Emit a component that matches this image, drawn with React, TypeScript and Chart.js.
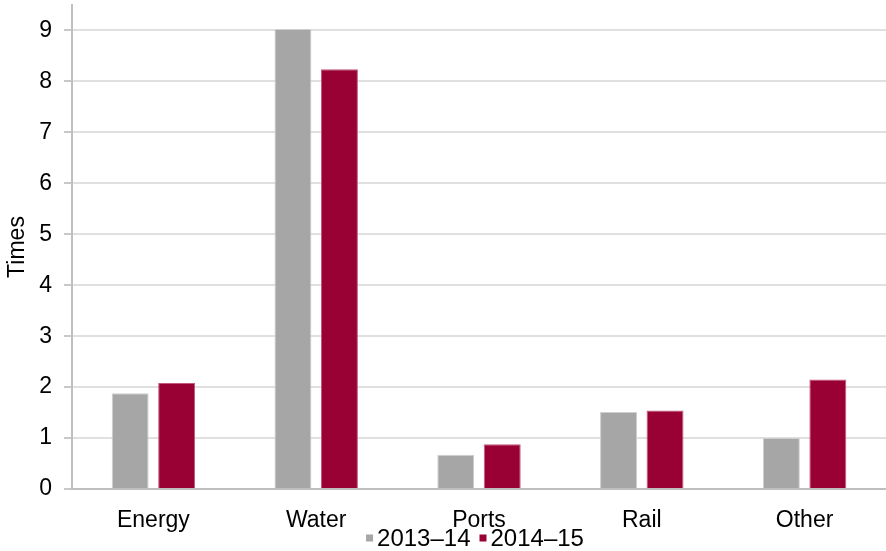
import React, { useEffect, useRef } from "react";
import { Chart, registerables } from "chart.js";

Chart.register(...registerables);

// Coverage ratio by sector, two financial years
const categories = ["Energy", "Water", "Ports", "Rail", "Other"];
const fy2013_14 = [1.88, 9.03, 0.67, 1.51, 1.0];
const fy2014_15 = [2.08, 8.24, 0.88, 1.54, 2.15];
const seriesLabels = ["2013\u201314", "2014\u201315"];
const yTickValues = [0, 1, 2, 3, 4, 5, 6, 7, 8, 9];

const FONT = '"Liberation Sans", Arial, sans-serif';
const GREY = "#a6a6a6";
const MAROON = "#990033";

// Compact legend centred under the axis labels
const bottomLegend = {
  id: "bottomLegend",
  afterDraw(chart: any) {
    const ctx = chart.ctx as CanvasRenderingContext2D;
    const box = 7;
    const gap = 4;
    const itemGap = 9;
    ctx.save();
    ctx.font = `24px ${FONT}`;
    ctx.textBaseline = "middle";
    const items = chart.data.datasets.map((ds: any) => ({
      text: ds.label as string,
      color: ds.backgroundColor as string,
      w: ctx.measureText(ds.label).width,
    }));
    const total =
      items.reduce((s: number, it: any) => s + box + gap + it.w, 0) +
      itemGap * (items.length - 1);
    let x = (chart.chartArea.left + chart.chartArea.right) / 2 - total / 2 - 4;
    const y = chart.height - 13;
    for (const it of items) {
      ctx.fillStyle = it.color;
      ctx.fillRect(x, y - box / 2, box, box);
      x += box + gap;
      ctx.fillStyle = "#000";
      ctx.fillText(it.text, x, y + 1);
      x += it.w + itemGap;
    }
    ctx.restore();
  },
};

export default function App() {
  const canvasRef = useRef<HTMLCanvasElement | null>(null);

  useEffect(() => {
    if (!canvasRef.current) return;
    const chart = new Chart(canvasRef.current, {
      type: "bar",
      data: {
        labels: categories,
        datasets: [
          {
            label: seriesLabels[0],
            data: fy2013_14,
            backgroundColor: GREY,
            borderColor: "#cfcfcf",
            borderWidth: 1,
          },
          {
            label: seriesLabels[1],
            data: fy2014_15,
            backgroundColor: MAROON,
            borderColor: "#c4577c",
            borderWidth: 1,
          },
        ],
      },
      options: {
        animation: false,
        responsive: false,
        maintainAspectRatio: false,
        layout: { padding: { top: 5, right: 0, bottom: 0, left: 0 } },
        datasets: {
          bar: { categoryPercentage: 0.571, barPercentage: 0.795 },
        },
        plugins: {
          legend: { display: false },
          tooltip: { enabled: false },
        },
        scales: {
          x: {
            grid: { display: false },
            border: { display: true, color: "#bfbfbf", width: 2 },
            ticks: {
              color: "#000",
              font: { family: FONT, size: 23 },
              padding: 10,
              maxRotation: 0,
            },
            afterFit(scale: any) {
              scale.height = 62;
              scale.paddingLeft = 0;
              scale.paddingRight = 0;
            },
          },
          y: {
            min: 0,
            max: 9.5,
            ticks: {
              stepSize: 1,
              color: "#000",
              font: { family: FONT, size: 23 },
              padding: 12,
            },
            afterBuildTicks(scale: any) {
              scale.ticks = yTickValues.map((v) => ({ value: v }));
            },
            grid: {
              color: "#e0e0e0",
              lineWidth: 2,
              tickLength: 8,
              tickColor: "#c8c8c8",
            },
            border: { display: true, color: "#bfbfbf", width: 2 },
            title: {
              display: true,
              text: "Times",
              color: "#000",
              font: { family: FONT, size: 23 },
              padding: { top: 4, bottom: 0 },
            },
            afterFit(scale: any) {
              scale.width = 72;
              scale.paddingTop = 0;
              scale.paddingBottom = 0;
            },
          },
        },
      },
      plugins: [bottomLegend],
    });
    return () => chart.destroy();
  }, []);

  return (
    <div style={{ position: "absolute", left: 0, top: 0, width: 886, height: 551, background: "#fff" }}>
      <canvas ref={canvasRef} width={886} height={551} style={{ display: "block" }} />
    </div>
  );
}
